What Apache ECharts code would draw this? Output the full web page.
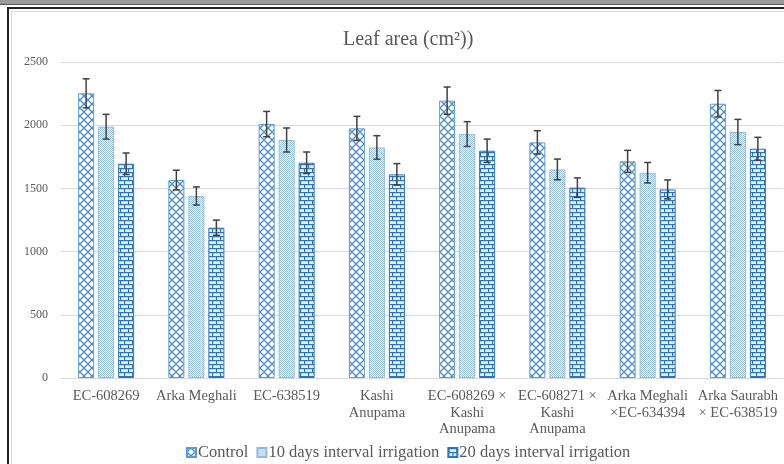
<!DOCTYPE html>
<html>
<head>
<meta charset="utf-8">
<script src="https://cdn.jsdelivr.net/npm/echarts@6/dist/echarts.min.js"></script>
<style>
html,body{margin:0;padding:0;background:#fff;}
#wrap{position:relative;width:784px;height:464px;overflow:hidden;}
#band{position:absolute;left:0;top:0;width:784px;height:4px;background:#9a9a9a;border-bottom:1px solid #555;}
#outer{position:absolute;left:7px;top:7px;width:800px;height:470px;border-left:2px solid #222;border-top:2px solid #222;}
#inner{position:absolute;left:11px;top:11px;width:800px;height:470px;border-left:1px solid #d9d9d9;border-top:1px solid #d9d9d9;}
#chart{position:absolute;left:0;top:0;width:784px;height:464px;}
</style>
</head>
<body>
<div id="wrap">
<div id="band"></div><div id="outer"></div><div id="inner"></div>
<div id="chart"></div>
</div>
<script>
const categories = ["EC-608269","Arka Meghali","EC-638519","Kashi\nAnupama","EC-608269 ×\nKashi\nAnupama","EC-608271 ×\nKashi\nAnupama","Arka Meghali\n×EC-634394","Arka Saurabh\n× EC-638519"];
const seriesNames = ["Control","10 days interval irrigation","20 days interval irrigation"];
const control = [2252,1566,2009,1975,2194,1864,1714,2170];
const days10 = [1988,1440,1883,1824,1930,1650,1624,1946];
const days20 = [1695,1189,1703,1611,1798,1506,1492,1814];
const controlErr = [115,78,100,95,108,92,87,105];
const days10Err = [98,72,95,93,98,82,81,100];
const days20Err = [85,60,85,85,92,77,75,90];
const yTicks = [0,500,1000,1500,2000,2500];

function makeCanvas(w,h,draw){const c=document.createElement('canvas');c.width=w;c.height=h;const x=c.getContext('2d');draw(x);return c;}
const latticeImg = makeCanvas(8,8,function(g){
  g.fillStyle='#ffffff';g.fillRect(0,0,8,8);
  g.strokeStyle='#4a8cc8';g.lineWidth=1.3;
  g.beginPath();g.moveTo(0,4);g.lineTo(4,0);g.lineTo(8,4);g.lineTo(4,8);g.closePath();g.stroke();
});
const dotImg = makeCanvas(2,2,function(g){
  g.fillStyle='#ffffff';g.fillRect(0,0,2,2);
  g.fillStyle='#93bce2';g.fillRect(0,0,1,1);g.fillRect(1,1,1,1);
});
const brickImg = makeCanvas(8,8,function(g){
  g.fillStyle='#e6f0fa';g.fillRect(0,0,8,8);
  g.fillStyle='#2e75b6';
  g.fillRect(0,0,8,1.2);g.fillRect(0,4,8,1.2);
  g.fillRect(0,0,1.2,4);g.fillRect(4,4,1.2,4);
});
const fills = [
  {image: latticeImg, repeat:'repeat'},
  {image: dotImg, repeat:'repeat'},
  {image: brickImg, repeat:'repeat'}
];
const borders = ['#5b9bd5','#8fbbe3','#2e75b6'];
const values = [control, days10, days20];
const errs = [controlErr, days10Err, days20Err];

const BAR_W = 16, GAP = 4;
const series = [];
values.forEach(function(v,i){
  series.push({
    name: seriesNames[i], type:'bar', data: v, barWidth: BAR_W, barGap: (GAP/BAR_W*100)+'%',
    itemStyle:{color: fills[i], borderColor: borders[i], borderWidth:1},
    z:2
  });
});
values.forEach(function(v,i){
  series.push({
    type:'custom', name: seriesNames[i], z:5, silent:true,
    data: v.map(function(val,k){return [k, val-errs[i][k], val+errs[i][k]];}),
    renderItem: function(params, api){
      const off = (i-1)*(BAR_W+GAP);
      const lo = api.coord([api.value(0), api.value(1)]);
      const hi = api.coord([api.value(0), api.value(2)]);
      const x = lo[0]+off, hw=3.5;
      const st = {stroke:'#404040', lineWidth:1.5};
      return {type:'group', children:[
        {type:'line', shape:{x1:x,y1:lo[1],x2:x,y2:hi[1]}, style:st},
        {type:'line', shape:{x1:x-hw,y1:lo[1],x2:x+hw,y2:lo[1]}, style:st},
        {type:'line', shape:{x1:x-hw,y1:hi[1],x2:x+hw,y2:hi[1]}, style:st}
      ]};
    },
    encode:{x:0,y:[1,2]}
  });
});

const chart = echarts.init(document.getElementById('chart'), null, {renderer:'canvas'});
chart.setOption({
  backgroundColor:'transparent',
  animation:false,
  title:{text:'Leaf area (cm²))', left:338, top:25,
    textStyle:{fontFamily:'Liberation Serif', fontSize:20, fontWeight:'normal', color:'#595959'}},
  legend:{data:seriesNames, top:439, left:181, icon:'rect', itemWidth:9, itemHeight:9, itemGap:8,
    textStyle:{fontFamily:'Liberation Serif', fontSize:16.5, color:'#595959', padding:[0,0,0,-3]}},
  grid:{left:61, right:1, top:62, bottom:86, containLabel:false},
  xAxis:{type:'category', data:categories,
    axisLine:{lineStyle:{color:'#d9d9d9'}}, axisTick:{show:false},
    axisLabel:{interval:0, margin:10, lineHeight:16.5, fontFamily:'Liberation Serif', fontSize:14.5, color:'#595959'}},
  yAxis:{type:'value', min:yTicks[0], max:yTicks[yTicks.length-1], interval:500,
    axisLine:{show:false}, axisTick:{show:false},
    splitLine:{lineStyle:{color:'#d9d9d9'}},
    axisLabel:{margin:13, fontFamily:'Liberation Serif', fontSize:12, color:'#595959', formatter:function(v){return String(v);}}},
  series: series
});
</script>
</body>
</html>
